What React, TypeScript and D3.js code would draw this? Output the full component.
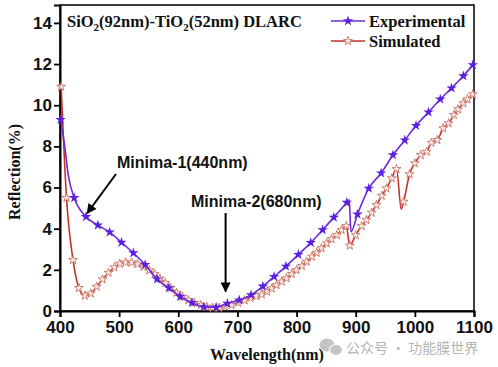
import * as d3 from 'd3';
import { useEffect, useRef } from 'react';

// Experimental reflection (purple, filled stars)
const expWavelength = [401, 408, 414, 424, 444, 464, 484, 504, 524, 544, 564, 584, 603, 623, 643, 664, 683, 703, 723, 743, 762, 782, 803, 824, 844, 863, 885, 889, 892, 903, 922, 943, 963, 983, 1002, 1023, 1043, 1062, 1082, 1098];
const expReflection = [9.3, 8.0, 6.6, 5.5, 4.58, 4.17, 3.83, 3.33, 2.82, 2.25, 1.55, 1.12, 0.7, 0.4, 0.2, 0.18, 0.37, 0.53, 0.78, 1.2, 1.67, 2.17, 2.74, 3.32, 3.94, 4.55, 5.27, 5.4, 3.85, 4.7, 5.96, 6.7, 7.58, 8.3, 9.01, 9.66, 10.29, 10.83, 11.42, 11.96];
const expLineOnly = [408, 414, 889, 892];

// Simulated reflection (red, open stars)
const simWavelength = [402, 411, 422, 432, 442, 452, 462, 472, 482, 492, 501, 511, 521, 531, 541, 551, 560, 569, 578, 587, 597, 607, 617, 627, 638, 648, 658, 669, 679, 690, 701, 712, 722, 732, 741, 750, 758, 766, 775, 783, 792, 800, 809, 817, 826, 834, 842, 851, 859, 868, 876, 884, 890, 900, 910, 918, 927, 935, 944, 952, 961, 969, 977, 981, 991, 1000, 1010, 1020, 1028, 1038, 1048, 1057, 1066, 1073, 1082, 1089, 1098];
const simReflection = [10.9, 5.5, 2.48, 1.12, 0.75, 0.85, 1.18, 1.54, 1.86, 2.12, 2.3, 2.36, 2.36, 2.28, 2.15, 1.98, 1.8, 1.58, 1.36, 1.12, 0.89, 0.7, 0.53, 0.4, 0.29, 0.21, 0.16, 0.16, 0.21, 0.29, 0.4, 0.52, 0.64, 0.72, 0.8, 0.94, 1.1, 1.26, 1.43, 1.59, 1.8, 1.99, 2.19, 2.4, 2.64, 2.83, 3.05, 3.29, 3.5, 3.69, 3.94, 4.13, 3.18, 3.69, 4.13, 4.42, 4.78, 5.15, 5.6, 5.96, 6.45, 6.9, 4.95, 5.31, 6.65, 7.18, 7.58, 7.74, 8.18, 8.31, 8.88, 9.12, 9.53, 9.8, 10.1, 10.29, 10.53];
const simLineOnly = [977];

const xTicks = [400, 500, 600, 700, 800, 900, 1000, 1100];
const yTicks = [0, 2, 4, 6, 8, 10, 12, 14];

const PURPLE = '#6a2bd8';
const RED = '#c3322b';
const RED_MARK = '#c9705f';
const SERIF = '"Liberation Serif", "Times New Roman", serif';
const SANS = '"Liberation Sans", Arial, sans-serif';

export default function App() {
  const svgRef = useRef<SVGSVGElement>(null);
  const width = 498;
  const height = 367;

  useEffect(() => {
    if (!svgRef.current) return;
    const svg = d3.select(svgRef.current);
    svg.selectAll('*').remove();

    const margin = { top: 5, right: 24, bottom: 56, left: 60 };
    const x = d3.scaleLinear().domain([400, 1100]).range([margin.left, width - margin.right]);
    const y = d3.scaleLinear().domain([0, 14.87]).range([height - margin.bottom, margin.top]);

    svg.append('rect').attr('width', width).attr('height', height).attr('fill', '#fff');

    const defs = svg.append('defs');
    defs.append('marker')
      .attr('id', 'arrow')
      .attr('viewBox', '0 0 10 10')
      .attr('refX', 9)
      .attr('refY', 5)
      .attr('markerWidth', 5.5)
      .attr('markerHeight', 5)
      .attr('markerUnits', 'strokeWidth')
      .attr('orient', 'auto')
      .append('path')
      .attr('d', 'M0,0 L10,5 L0,10 Z')
      .attr('fill', '#000');

    // frame
    svg.append('rect')
      .attr('x', x(400)).attr('y', y(14.87))
      .attr('width', x(1100) - x(400)).attr('height', y(0) - y(14.87))
      .attr('fill', 'none').attr('stroke', '#000').attr('stroke-width', 1.5);

    // axes
    const xAxis = svg.append('g')
      .attr('transform', `translate(0,${y(0)})`)
      .call(d3.axisBottom(x).tickValues(xTicks).tickSize(6).tickPadding(4).tickFormat(d3.format('d')));
    const yAxis = svg.append('g')
      .attr('transform', `translate(${x(400)},0)`)
      .call(d3.axisLeft(y).tickValues(yTicks).tickSize(6).tickPadding(2).tickFormat(d3.format('d')));

    [xAxis, yAxis].forEach(a => {
      a.select('.domain').attr('stroke-width', 2);
      a.selectAll('.tick line').attr('stroke-width', 1.8);
      a.selectAll('text')
        .style('font-family', SANS)
        .style('font-weight', 'bold')
        .style('font-size', '17px')
        .attr('fill', '#111');
    });

    const line = d3.line<[number, number]>()
      .x(d => x(d[0]))
      .y(d => y(d[1]))
      .curve(d3.curveMonotoneX);

    const expPts: [number, number][] = expWavelength.map((w, i) => [w, expReflection[i]]);
    const simPts: [number, number][] = simWavelength.map((w, i) => [w, simReflection[i]]);

    // simulated
    svg.append('path')
      .attr('d', line(simPts))
      .attr('fill', 'none')
      .attr('stroke', RED)
      .attr('stroke-width', 1.6);

    const openStar = d3.symbol().type(d3.symbolStar).size(24);
    svg.append('g').selectAll('path')
      .data(simPts.filter(d => !simLineOnly.includes(d[0])))
      .enter()
      .append('path')
      .attr('d', openStar)
      .attr('transform', d => `translate(${x(d[0])},${y(d[1])})`)
      .attr('fill', '#fff')
      .attr('fill-opacity', 0.85)
      .attr('stroke', RED_MARK)
      .attr('stroke-width', 0.9);

    // experimental
    svg.append('path')
      .attr('d', line(expPts))
      .attr('fill', 'none')
      .attr('stroke', PURPLE)
      .attr('stroke-width', 1.6);

    const fullStar = d3.symbol().type(d3.symbolStar).size(34);
    svg.append('g').selectAll('path')
      .data(expPts.filter(d => !expLineOnly.includes(d[0])))
      .enter()
      .append('path')
      .attr('d', fullStar)
      .attr('transform', d => `translate(${x(d[0])},${y(d[1])})`)
      .attr('fill', '#5a1fe0');

    // title
    const title = svg.append('text')
      .attr('x', 67).attr('y', 27)
      .style('font-family', SERIF)
      .style('font-weight', 'bold')
      .style('font-size', '16.5px')
      .attr('fill', '#111');
    title.append('tspan').text('SiO');
    title.append('tspan').attr('dy', 4).style('font-size', '11px').text('2');
    title.append('tspan').attr('dy', -4).text('(92nm)-TiO');
    title.append('tspan').attr('dy', 4).style('font-size', '11px').text('2');
    title.append('tspan').attr('dy', -4).text('(52nm) DLARC');

    // legend
    const legend = [
      { label: 'Experimental', color: PURPLE, y: 21, filled: true },
      { label: 'Simulated', color: RED, y: 41, filled: false }
    ];
    legend.forEach(l => {
      svg.append('line')
        .attr('x1', 331).attr('x2', 365)
        .attr('y1', l.y).attr('y2', l.y)
        .attr('stroke', l.color).attr('stroke-width', 1.6);
      svg.append('path')
        .attr('d', (l.filled ? fullStar : openStar)())
        .attr('transform', `translate(348,${l.y})`)
        .attr('fill', l.filled ? '#5a1fe0' : '#fff')
        .attr('stroke', l.filled ? 'none' : RED_MARK)
        .attr('stroke-width', 0.9);
      svg.append('text')
        .attr('x', 369).attr('y', l.y + 6)
        .style('font-family', SERIF)
        .style('font-weight', 'bold')
        .style('font-size', '16.5px')
        .attr('fill', '#111')
        .text(l.label);
    });

    // annotations
    svg.append('text')
      .attr('x', 117).attr('y', 168)
      .style('font-family', SANS).style('font-weight', 'bold').style('font-size', '16px')
      .attr('fill', '#111')
      .text('Minima-1(440nm)');
    svg.append('line')
      .attr('x1', 116).attr('y1', 174).attr('x2', x(446)).attr('y2', y(4.75))
      .attr('stroke', '#000').attr('stroke-width', 2)
      .attr('marker-end', 'url(#arrow)');

    svg.append('text')
      .attr('x', 191).attr('y', 207)
      .style('font-family', SANS).style('font-weight', 'bold').style('font-size', '16px')
      .attr('fill', '#111')
      .text('Minima-2(680nm)');
    svg.append('line')
      .attr('x1', x(680)).attr('y1', 213).attr('x2', x(680)).attr('y2', y(0.95))
      .attr('stroke', '#000').attr('stroke-width', 2)
      .attr('marker-end', 'url(#arrow)');

    // axis titles
    svg.append('text')
      .attr('x', (x(400) + x(1100)) / 2).attr('y', 360)
      .attr('text-anchor', 'middle')
      .style('font-family', SERIF).style('font-weight', 'bold').style('font-size', '16px')
      .attr('fill', '#111')
      .text('Wavelength(nm)');
    svg.append('text')
      .attr('transform', 'rotate(-90)')
      .attr('x', -172).attr('y', 20)
      .attr('text-anchor', 'middle')
      .style('font-family', SERIF).style('font-weight', 'bold').style('font-size', '16px')
      .attr('fill', '#111')
      .text('Reflection(%)');

    // watermark
    const wm = svg.append('g').attr('fill', '#c4c4c4');
    wm.append('ellipse').attr('cx', 327).attr('cy', 345).attr('rx', 7.5).attr('ry', 6.5);
    wm.append('ellipse').attr('cx', 336).attr('cy', 350).attr('rx', 6.5).attr('ry', 5.5).attr('stroke', '#fff').attr('stroke-width', 1.2);
    svg.append('text')
      .attr('x', 346).attr('y', 353)
      .style('font-family', '"Noto Sans CJK SC", sans-serif').style('font-size', '14px')
      .attr('fill', '#b4b4b4')
      .text('公众号 · 功能膜世界');
  }, []);

  return (
    <svg
      ref={svgRef}
      width={width}
      height={height}
      style={{ position: 'absolute', left: 0, top: 0, background: '#fff' }}
    ></svg>
  );
}
